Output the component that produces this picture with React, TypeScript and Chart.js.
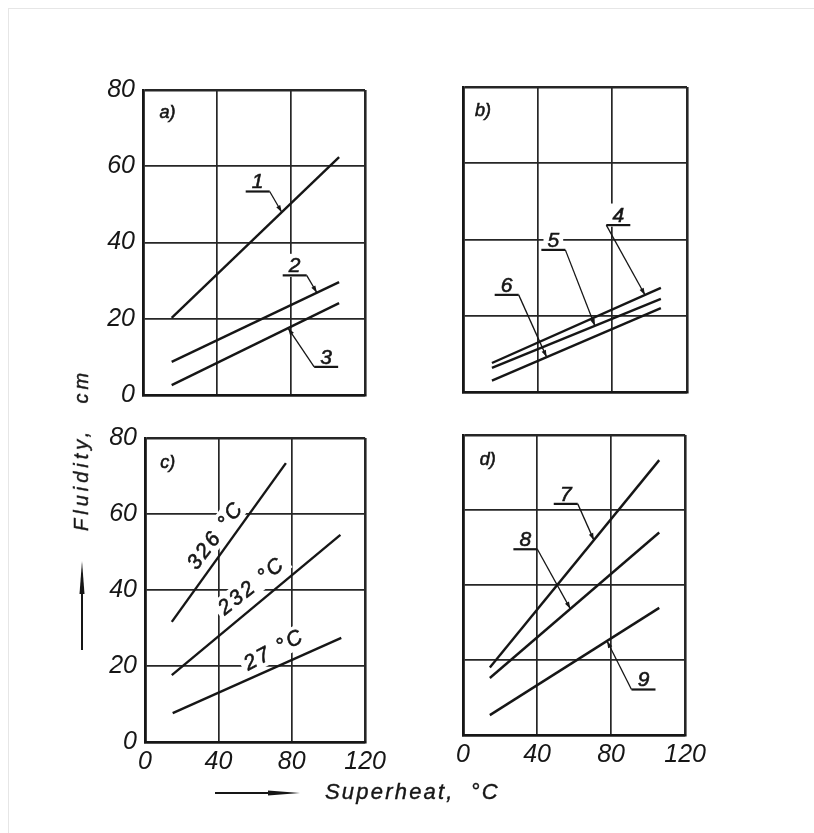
import React, { useEffect, useRef } from "react";
import { Chart, registerables } from "chart.js";

Chart.register(...registerables);

// ---------- data ----------
const xTicks = [0, 40, 80, 120];
const yTicks = [0, 20, 40, 60, 80];

// panel a)
const aX = [15.5, 106];
const a1 = [20.2, 62.4];
const a2 = [8.7, 29.6];
const a3 = [2.6, 24.1];

// panel b)
const bX = [15.5, 106];
const b4 = [7.6, 27.3];
const b5 = [6.3, 24.4];
const b6 = [3.0, 22.0];

// panel c)
const cX326 = [14.6, 76.8];
const c326 = [31.6, 73.4];
const cX232 = [14.6, 106.5];
const c232 = [17.6, 54.5];
const cX27 = [15.1, 107];
const c27 = [7.6, 27.4];

// panel d)
const dX = [14.5, 106];
const d7 = [18.0, 73.3];
const d8 = [15.2, 54.0];
const d9 = [5.3, 33.9];

// labels: text, text position (data units), leader side, target series, target x
const aNotes = [
  { text: "a)", x: 13.2, y: 74.1, kind: "panel" },
  { text: "1", x: 62, y: 56, kind: "num", side: "r", series: 0, tx: 75 },
  { text: "2", x: 82, y: 34, kind: "num", side: "r", series: 1, tx: 94 },
  { text: "3", x: 99, y: 10, kind: "num", side: "l", series: 2, tx: 78.4 },
];
const bNotes = [
  { text: "b)", x: 10.7, y: 73.9, kind: "panel" },
  { text: "4", x: 83.2, y: 46.4, kind: "num", side: "l", series: 0, tx: 97.5 },
  { text: "5", x: 48.4, y: 39.9, kind: "num", side: "r", series: 1, tx: 70.7 },
  { text: "6", x: 23.4, y: 28.1, kind: "num", side: "r", series: 2, tx: 44.8 },
];
const cNotes = [
  { text: "c)", x: 12.4, y: 73.7, kind: "panel" },
  { text: "326 °C", x: 38.3, y: 54.5, kind: "temp", angle: -53 },
  { text: "232 °C", x: 58.0, y: 41.2, kind: "temp", angle: -39 },
  { text: "27 °C", x: 70.3, y: 24.4, kind: "temp", angle: -28 },
];
const dNotes = [
  { text: "d)", x: 13.4, y: 73.5, kind: "panel" },
  { text: "7", x: 55.5, y: 64.3, kind: "num", side: "r", series: 0, tx: 70.7 },
  { text: "8", x: 33.7, y: 52.2, kind: "num", side: "r", series: 1, tx: 58 },
  { text: "9", x: 97.5, y: 14.8, kind: "num", side: "l", series: 2, tx: 77.8 },
];

const yTitle = "Fluidity,";
const yUnit = "cm";
const xTitle = "Superheat,";
const xUnit = "°C";

// ---------- styling ----------
const INK = "#161616";
const FONT = "'Liberation Sans', 'DejaVu Sans', sans-serif";

type Series = { x: number[]; y: number[] };
type Note = any;

const PAD = 24;

function interp(s: Series, xv: number) {
  const [x0, x1] = s.x;
  const [y0, y1] = s.y;
  return y0 + ((xv - x0) * (y1 - y0)) / (x1 - x0);
}

function notesPlugin(notes: Note[], series: Series[]) {
  const draw = (chart: any, bg: boolean) => {
    const ctx = chart.ctx as any;
    const xs = chart.scales.x;
    const ys = chart.scales.y;
    for (const n of notes) {
      const px = xs.getPixelForValue(n.x);
      const py = ys.getPixelForValue(n.y);
      let size = 21;
      let spacing = "0px";
      if (n.kind === "panel") size = 18;
      if (n.kind === "temp") {
        size = 21;
        spacing = "2.5px";
      }
      ctx.save();
      ctx.translate(px, py);
      ctx.rotate(((n.angle || 0) * Math.PI) / 180);
      ctx.font = `italic ${size}px ${FONT}`;
      ctx.letterSpacing = spacing;
      const w = ctx.measureText(n.text).width;
      const h = size * 0.72;
      if (bg) {
        ctx.fillStyle = "#ffffff";
        ctx.fillRect(-w / 2 - 4, -h / 2 - 4, w + 8, h + 8);
      } else {
        ctx.fillStyle = INK;
        ctx.strokeStyle = INK;
        ctx.lineWidth = 0.6;
        ctx.textAlign = "center";
        ctx.textBaseline = "middle";
        ctx.fillText(n.text, 0, 1);
        ctx.strokeText(n.text, 0, 1);
        if (n.kind === "num") {
          ctx.lineWidth = 2.2;
          ctx.beginPath();
          ctx.moveTo(-12, 10);
          ctx.lineTo(12, 10);
          ctx.stroke();
        }
      }
      ctx.restore();
      if (!bg && n.kind === "num") {
        const sx = px + (n.side === "r" ? 12 : -12);
        const sy = py + 10;
        const s = series[n.series];
        const tx = xs.getPixelForValue(n.tx);
        const ty = ys.getPixelForValue(interp(s, n.tx));
        ctx.save();
        ctx.strokeStyle = INK;
        ctx.fillStyle = INK;
        ctx.lineWidth = 1.3;
        ctx.beginPath();
        ctx.moveTo(sx, sy);
        ctx.lineTo(tx, ty);
        ctx.stroke();
        const ang = Math.atan2(ty - sy, tx - sx);
        const L = 7;
        const W = 2.3;
        ctx.beginPath();
        ctx.moveTo(tx, ty);
        ctx.lineTo(tx - L * Math.cos(ang) + W * Math.sin(ang), ty - L * Math.sin(ang) - W * Math.cos(ang));
        ctx.lineTo(tx - L * Math.cos(ang) - W * Math.sin(ang), ty - L * Math.sin(ang) + W * Math.cos(ang));
        ctx.closePath();
        ctx.fill();
        ctx.restore();
      }
    }
  };
  return {
    id: "notes",
    beforeDatasetsDraw(chart: any) {
      draw(chart, true);
    },
    afterDatasetsDraw(chart: any) {
      draw(chart, false);
    },
  };
}

type PanelProps = {
  L: number;
  T: number;
  R: number;
  B: number;
  showX: boolean;
  showY: boolean;
  series: Series[];
  notes: Note[];
};

function Panel({ L, T, R, B, showX, showY, series, notes }: PanelProps) {
  const ref = useRef<HTMLCanvasElement | null>(null);
  const yw = showY ? 58 : 0;
  const xh = showX ? 34 : 0;
  const left = L - PAD - yw;
  const top = T - PAD;
  const width = R - L + 2 * PAD + yw;
  const height = B - T + 2 * PAD + xh;

  useEffect(() => {
    if (!ref.current) return;
    const tickFont = { family: FONT, style: "italic" as const, size: 25 };
    const gridWidth = (max: number) => (c: any) =>
      c.tick && (c.tick.value === max || c.tick.value === 0) ? 2.6 : 1.7;
    const chart = new Chart(ref.current, {
      type: "line",
      data: {
        datasets: series.map((s) => ({
          data: s.x.map((xv, i) => ({ x: xv, y: s.y[i] })),
          borderColor: INK,
          borderWidth: 2.4,
          pointRadius: 0,
          fill: false,
          tension: 0,
        })),
      },
      options: {
        animation: false,
        responsive: false,
        maintainAspectRatio: false,
        events: [],
        layout: { padding: { top: PAD, right: PAD, bottom: PAD, left: PAD } },
        plugins: { legend: { display: false }, tooltip: { enabled: false } },
        scales: {
          x: {
            type: "linear",
            min: 0,
            max: 120,
            afterBuildTicks: (s: any) => {
              s.ticks = xTicks.map((v) => ({ value: v }));
            },
            afterFit: (s: any) => {
              s.height = xh;
            },
            ticks: {
              display: showX,
              color: INK,
              font: tickFont,
              padding: 5,
              maxRotation: 0,
              autoSkip: false,
            },
            grid: { color: "#262626", lineWidth: gridWidth(120), drawTicks: false },
            border: { display: true, color: INK, width: 2.6 },
          },
          y: {
            type: "linear",
            min: 0,
            max: 80,
            afterBuildTicks: (s: any) => {
              s.ticks = yTicks.map((v) => ({ value: v }));
            },
            afterFit: (s: any) => {
              s.width = yw;
            },
            ticks: {
              display: showY,
              color: INK,
              font: tickFont,
              padding: 8,
              autoSkip: false,
            },
            grid: { color: "#262626", lineWidth: gridWidth(80), drawTicks: false },
            border: { display: true, color: INK, width: 2.6 },
          },
        },
      },
      plugins: [notesPlugin(notes, series)],
    });
    return () => chart.destroy();
  }, []);

  return (
    <canvas
      ref={ref}
      width={width}
      height={height}
      style={{ position: "absolute", left, top, width, height }}
    />
  );
}

export default function App() {
  const aSeries: Series[] = [
    { x: aX, y: a1 },
    { x: aX, y: a2 },
    { x: aX, y: a3 },
  ];
  const bSeries: Series[] = [
    { x: bX, y: b4 },
    { x: bX, y: b5 },
    { x: bX, y: b6 },
  ];
  const cSeries: Series[] = [
    { x: cX326, y: c326 },
    { x: cX232, y: c232 },
    { x: cX27, y: c27 },
  ];
  const dSeries: Series[] = [
    { x: dX, y: d7 },
    { x: dX, y: d8 },
    { x: dX, y: d9 },
  ];

  return (
    <div
      style={{
        position: "absolute",
        left: 0,
        top: 0,
        width: 814,
        height: 833,
        background: "#ffffff",
        overflow: "hidden",
      }}
    >
      <div
        style={{
          position: "absolute",
          left: 8,
          top: 8,
          width: 820,
          height: 840,
          borderTop: "1px solid #e6e6e6",
          borderLeft: "1px solid #e6e6e6",
        }}
      />
      <Panel L={143} T={90} R={365} B={395} showX={false} showY={true} series={aSeries} notes={aNotes} />
      <Panel L={463} T={87} R={687} B={392} showX={false} showY={false} series={bSeries} notes={bNotes} />
      <Panel L={145} T={438} R={367} B={742} showX={true} showY={true} series={cSeries} notes={cNotes} />
      <Panel L={463} T={435} R={687} B={735} showX={true} showY={false} series={dSeries} notes={dNotes} />

      <div
        style={{
          position: "absolute",
          left: 81,
          top: 450,
          transform: "translate(-50%, -50%) rotate(-90deg)",
          whiteSpace: "nowrap",
          fontFamily: FONT,
          fontStyle: "italic",
          fontSize: 20,
          letterSpacing: "4px",
          color: INK,
          lineHeight: 1,
          WebkitTextStroke: "0.4px " + INK,
        }}
      >
        {yTitle}
        <span style={{ marginLeft: 24 }}>{yUnit}</span>
      </div>

      <div
        style={{
          position: "absolute",
          left: 325,
          top: 781,
          whiteSpace: "nowrap",
          fontFamily: FONT,
          fontStyle: "italic",
          fontSize: 22,
          letterSpacing: "2.2px",
          color: INK,
          lineHeight: 1,
          WebkitTextStroke: "0.4px " + INK,
        }}
      >
        {xTitle}
        <span style={{ marginLeft: 16 }}>{xUnit}</span>
      </div>

      <svg
        width={814}
        height={833}
        style={{ position: "absolute", left: 0, top: 0, pointerEvents: "none" }}
      >
        <line x1={82} y1={650} x2={82} y2={575} stroke={INK} strokeWidth={2} />
        <polygon points="82,561 79.5,594 84.5,594" fill={INK} />
        <line x1={215} y1={793} x2={285} y2={793} stroke={INK} strokeWidth={2} />
        <polygon points="300,793 268,790.5 268,795.5" fill={INK} />
      </svg>
    </div>
  );
}
